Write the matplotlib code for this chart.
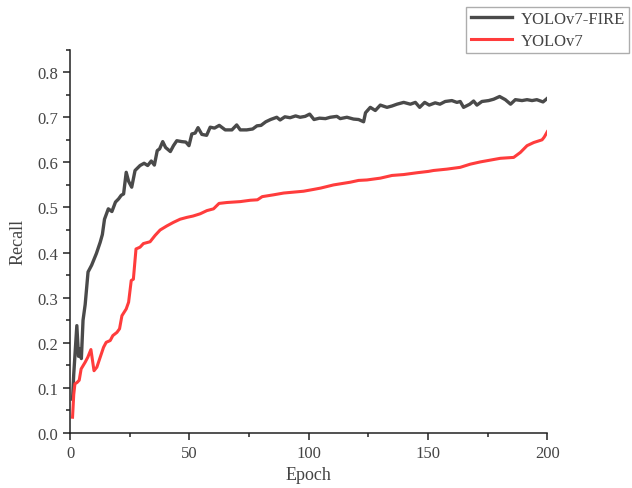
import matplotlib.pyplot as plt
from matplotlib.ticker import MultipleLocator

# values
fire_epoch = [1, 1.5, 2.8, 3.5, 4.2, 4.7, 5.4, 6.3, 7.5, 9, 11, 12.6, 13.5, 14.4, 16,
              17.5, 19, 20.3, 21.4, 22.4, 23.5, 24.5, 25.8, 27.2, 29.3, 31, 32.5, 34,
              35.3, 36.5, 37.5, 38.8, 40, 42, 43.3, 44.7, 46.8, 48.5, 49.8, 51, 52.4,
              53.6, 55.2, 57.2, 58.7, 60.5, 62.5, 65, 67.8, 69.8, 71.3, 74, 76.5, 78.3,
              80, 82, 84, 86.6, 88, 90, 92.2, 94.5, 96.4, 98.5, 100.4, 102.2, 104.5,
              107, 109, 111.8, 113.2, 116, 118.8, 120.9, 123, 123.8, 125.8, 127.9, 130,
              132.8, 134.9, 137, 139.8, 142.6, 144.7, 146.5, 148.6, 150.5, 153, 155,
              157.2, 160, 162.1, 163.5, 164.9, 167.5, 169.1, 170.5, 172.6, 175.4, 177.5,
              180, 182.4, 184.6, 186.6, 189.4, 191.5, 193.6, 195.6, 198.2, 200]
fire_recall = [0.075, 0.13, 0.238, 0.17, 0.186, 0.165, 0.25, 0.285, 0.357, 0.372, 0.398,
               0.423, 0.44, 0.474, 0.497, 0.491, 0.512, 0.519, 0.527, 0.53, 0.578, 0.558,
               0.545, 0.582, 0.593, 0.598, 0.593, 0.603, 0.594, 0.626, 0.63, 0.646, 0.633,
               0.624, 0.637, 0.648, 0.646, 0.645, 0.637, 0.663, 0.665, 0.677, 0.662, 0.66,
               0.678, 0.676, 0.682, 0.672, 0.672, 0.683, 0.672, 0.672, 0.674, 0.681, 0.682,
               0.69, 0.695, 0.70, 0.694, 0.701, 0.699, 0.703, 0.70, 0.702, 0.707, 0.695,
               0.698, 0.697, 0.70, 0.702, 0.697, 0.70, 0.696, 0.695, 0.69, 0.71, 0.722,
               0.715, 0.727, 0.722, 0.725, 0.729, 0.733, 0.729, 0.733, 0.722, 0.733, 0.727,
               0.732, 0.729, 0.735, 0.737, 0.733, 0.735, 0.722, 0.729, 0.736, 0.727, 0.735,
               0.737, 0.74, 0.746, 0.739, 0.729, 0.739, 0.737, 0.739, 0.737, 0.739, 0.734,
               0.742]

base_epoch = [1, 1.5, 2, 2.9, 3.8, 4.6, 6.3, 7.4, 8.7, 10, 11.2, 12.6, 14, 15.1, 16.8,
              17.9, 19.6, 20.7, 21.7, 23.5, 24.5, 25.6, 26.5, 27.6, 29.3, 30.7, 33.5,
              35.6, 37.7, 40.5, 43.3, 46.1, 48.9, 51.5, 54.5, 57.3, 60.1, 62.4, 65.7,
              71.3, 75.5, 78.5, 80.5, 85.2, 89.5, 93.6, 97.8, 102, 105, 110.4, 117.4,
              120.9, 124.4, 130, 134.9, 139.8, 145.4, 150.2, 152.3, 157.9, 163.5, 167.7,
              171.9, 176.1, 180.3, 185.9, 188.7, 191.5, 194.3, 197.8, 198.7, 200]
base_recall = [0.035, 0.085, 0.109, 0.112, 0.117, 0.142, 0.157, 0.168, 0.185, 0.138,
               0.146, 0.168, 0.19, 0.201, 0.205, 0.216, 0.223, 0.231, 0.26, 0.275, 0.29,
               0.338, 0.341, 0.408, 0.412, 0.42, 0.424, 0.438, 0.45, 0.459, 0.467, 0.474,
               0.478, 0.481, 0.486, 0.493, 0.497, 0.509, 0.511, 0.513, 0.516, 0.517, 0.524,
               0.528, 0.532, 0.534, 0.536, 0.54, 0.543, 0.55, 0.556, 0.56, 0.561, 0.565,
               0.571, 0.573, 0.577, 0.58, 0.582, 0.585, 0.589, 0.596, 0.601, 0.605, 0.609,
               0.611, 0.622, 0.637, 0.644, 0.65, 0.656, 0.668]

plt.rcParams['font.family'] = ['Liberation Serif', 'DejaVu Serif']

fig = plt.figure(figsize=(6.32, 4.89), dpi=100)
ax = fig.add_axes([0.111, 0.1125, 0.755, 0.784])

ax.plot(fire_epoch, fire_recall, color='#4a4a4a', lw=2.4, label='YOLOv7-FIRE')
ax.plot(base_epoch, base_recall, color='#ff3c3c', lw=2.2, label='YOLOv7')

ax.set_xlim(0, 200)
ax.set_ylim(0, 0.85)
ax.xaxis.set_major_locator(MultipleLocator(50))
ax.xaxis.set_minor_locator(MultipleLocator(25))
ax.yaxis.set_major_locator(MultipleLocator(0.1))
ax.yaxis.set_minor_locator(MultipleLocator(0.05))
ax.yaxis.set_major_formatter(plt.FuncFormatter(lambda v, p: f'{v:.1f}'))

for s in ['top', 'right']:
    ax.spines[s].set_visible(False)
for s in ['left', 'bottom']:
    ax.spines[s].set_linewidth(1.1)
    ax.spines[s].set_color('#222222')

ax.tick_params(which='major', direction='out', length=5, width=1.1, color='#222222',
               labelsize=12, labelcolor='#444444')
ax.tick_params(which='minor', direction='out', length=3, width=1.1, color='#222222')

ax.set_xlabel('Epoch', fontsize=13, color='#444444', labelpad=4)
ax.set_ylabel('Recall', fontsize=13, color='#444444', labelpad=8)

fig.legend(loc='upper left', bbox_to_anchor=(0.738, 0.984), fontsize=12,
           frameon=True, fancybox=False, edgecolor='#999999', handlelength=2.5,
           borderpad=0.25, labelspacing=0.35, handletextpad=0.5, borderaxespad=0,
           labelcolor='#444444')

fig.savefig('out.png', dpi=100)
